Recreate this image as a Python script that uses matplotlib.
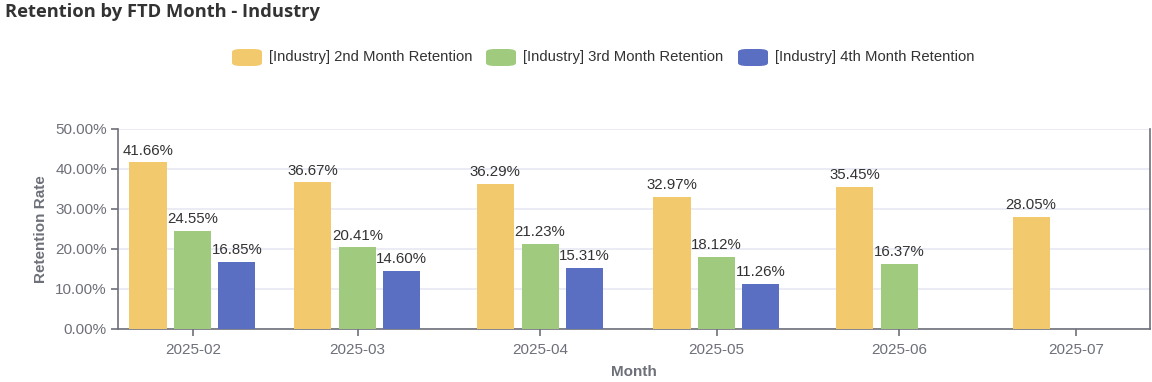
import datetime as dt
import numpy as np
import matplotlib.pyplot as plt
import matplotlib.dates as mdates
from matplotlib.patches import FancyBboxPatch
from matplotlib.ticker import FuncFormatter

plt.rcParams['font.family'] = ['Liberation Sans', 'DejaVu Sans']

months = ["2025-02", "2025-03", "2025-04", "2025-05", "2025-06", "2025-07"]
series_names = ["[Industry] 2nd Month Retention",
                "[Industry] 3rd Month Retention",
                "[Industry] 4th Month Retention"]
m2 = [41.66, 36.67, 36.29, 32.97, 35.45, 28.05]
m3 = [24.55, 20.41, 21.23, 18.12, 16.37, None]
m4 = [16.85, 14.60, 15.31, 11.26, None, None]
colors = ["#F2C96C", "#A0CB7F", "#5B6FC2"]

fig = plt.figure(figsize=(11.52, 3.82), dpi=100)
ax = fig.add_axes([118 / 1152, 1 - 329 / 382, 1032 / 1152, 200 / 382])

# time axis: months are real dates, so spacing follows days per month
x = mdates.date2num([dt.datetime.strptime(m, "%Y-%m") for m in months])
width = 6.3
offsets = [-7.6, 0.0, 7.5]
for vals, off, col in zip([m2, m3, m4], offsets, colors):
    for i, v in enumerate(vals):
        if v is None:
            continue
        ax.bar(x[i] + off, v, width, color=col, zorder=3)
        ax.text(x[i] + off, v + 1.2, f"{v:.2f}%", ha="center", va="bottom",
                fontsize=10.8, color="#333333", zorder=4)

ax.set_xlim(x[0] - 12.7, x[-1] + 12.6)
ax.set_ylim(0, 50)
ax.set_yticks(np.arange(0, 51, 10))
ax.yaxis.set_major_formatter(FuncFormatter(lambda v, p: f"{v:.2f}%"))
ax.set_xticks(x)
ax.xaxis.set_major_formatter(mdates.DateFormatter("%Y-%m"))
ax.grid(axis="y", color="#E6E8F2", linewidth=1.2, zorder=0)
ax.tick_params(axis="both", colors="#6E7079", labelsize=11, length=5, width=1.2)
ax.tick_params(axis="x", pad=5)
ax.tick_params(axis="y", pad=3)
for s in ["left", "bottom", "right"]:
    ax.spines[s].set_color("#6E7079")
    ax.spines[s].set_linewidth(1.2)
ax.spines["top"].set_visible(False)

ax.set_ylabel("Retention Rate", fontsize=11, fontweight="bold", color="#6E7079", labelpad=5)
ax.set_xlabel("Month", fontsize=11, fontweight="bold", color="#6E7079", labelpad=6)

fig.text(5 / 1152, 1 - 12 / 382, "Retention by FTD Month - Industry", fontsize=13.2,
         fontweight="bold", color="#333333", ha="left", va="center",
         family=["Open Sans", "DejaVu Sans"])

# legend with rounded swatches
leg_x = [232, 486, 738]
for lx, name, col in zip(leg_x, series_names, colors):
    sw = FancyBboxPatch((lx / 1152, 1 - 66 / 382), 30 / 1152, 17 / 382,
                        boxstyle="round,pad=0,rounding_size=0.008",
                        transform=fig.transFigure, facecolor=col, edgecolor="none")
    fig.patches.append(sw)
    fig.text((lx + 37) / 1152, 1 - 57 / 382, name, fontsize=10.7, color="#333333",
             ha="left", va="center")

fig.savefig("out.png", dpi=100)
